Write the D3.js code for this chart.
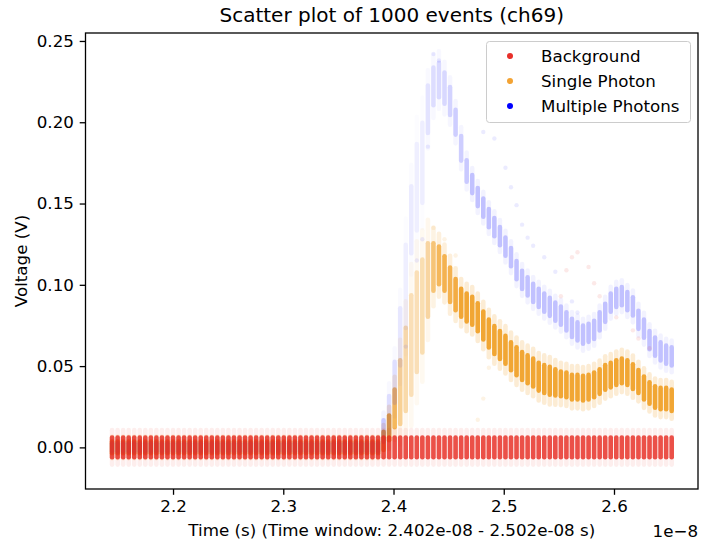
<!DOCTYPE html>
<html>
<head>
<meta charset="utf-8">
<script src="https://cdn.jsdelivr.net/npm/d3@7"></script>
<style>
  body { margin: 0; background: #fff; }
  svg text { font-family: "DejaVu Sans", sans-serif; fill: #000; }
</style>
</head>
<body>
<div id="chart"></div>
<script>
// Sampling grid of the waveform (time axis in units of 1e-8 s)
var sampleStart = 2.1447;
var sampleStep = 0.005026;
var sampleCount = 102;

// Per-sample band of each class: centre voltage and half spread (V)
var backgroundMid = [
  0,0,0,0,0,0,0,0,0,0, 0,0,0,0,0,0,0,0,0,0, 0,0,0,0,0,0,0,0,0,0,
  0,0,0,0,0,0,0,0,0,0, 0,0,0,0,0,0,0,0,0,0, 0,0,0,0,0,0,0,0,0,0,
  0,0,0,0,0,0,0,0,0,0, 0,0,0,0,0,0,0,0,0,0, 0,0,0,0,0,0,0,0,0,0,
  0,0,0,0,0,0,0,0,0,0, 0,0
];
var backgroundHalf = 0.0075;

var singleMid = [
  0,0,0,0,0,0,0,0,0,0, 0,0,0,0,0,0,0,0,0,0, 0,0,0,0,0,0,0,0,0,0,
  0,0,0,0,0,0,0,0,0,0, 0,0,0,0,0,0,0,0,0,0.004,
  0.012,0.024,0.034,0.048,0.063,0.077,0.087,0.103,0.111,0.112,
  0.107,0.100,0.094,0.089,0.086,0.084,0.080,0.075,0.070,0.066,
  0.063,0.060,0.056,0.053,0.050,0.048,0.046,0.0435,0.042,0.041,
  0.040,0.039,0.0385,0.037,0.037,0.0365,0.037,0.0385,0.0405,0.043,
  0.0445,0.046,0.047,0.046,0.0435,0.0405,0.0365,0.0335,0.031,0.030,
  0.030,0.029
];
var singleHalf = [
  0.005,0.005,0.005,0.005,0.005,0.005,0.005,0.005,0.005,0.005,
  0.005,0.005,0.005,0.005,0.005,0.005,0.005,0.005,0.005,0.005,
  0.005,0.005,0.005,0.005,0.005,0.005,0.005,0.005,0.005,0.005,
  0.005,0.005,0.005,0.005,0.005,0.005,0.005,0.005,0.005,0.005,
  0.005,0.005,0.005,0.005,0.005,0.005,0.005,0.005,0.005,0.007,
  0.009,0.013,0.021,0.027,0.032,0.032,0.030,0.024,0.016,0.013,
  0.012,0.012,0.011,0.010,0.010,0.010,0.010,0.010,0.010,0.010,
  0.010,0.010,0.010,0.010,0.010,0.010,0.010,0.010,0.010,0.010,
  0.0095,0.009,0.009,0.009,0.009,0.009,0.009,0.009,0.009,0.009,
  0.009,0.009,0.009,0.009,0.009,0.0085,0.0085,0.008,0.008,0.008,
  0.008,0.008
];

var multiMid = [
  0,0,0,0,0,0,0,0,0,0, 0,0,0,0,0,0,0,0,0,0, 0,0,0,0,0,0,0,0,0,0,
  0,0,0,0,0,0,0,0,0,0, 0,0,0,0,0,0,0,0,0,0.010,
  0.020,0.040,0.068,0.099,0.140,0.160,0.175,0.208,0.222,0.226,
  0.221,0.213,0.200,0.184,0.170,0.162,0.154,0.1475,0.141,0.1355,
  0.130,0.1235,0.117,0.109,0.103,0.099,0.095,0.092,0.089,0.0865,
  0.0835,0.081,0.0775,0.0735,0.0713,0.0693,0.0705,0.0723,0.0775,0.0828,
  0.089,0.092,0.093,0.090,0.0867,0.0785,0.073,0.066,0.062,0.059,
  0.057,0.056
];
var multiHalf = [
  0.004,0.004,0.004,0.004,0.004,0.004,0.004,0.004,0.004,0.004,
  0.004,0.004,0.004,0.004,0.004,0.004,0.004,0.004,0.004,0.004,
  0.004,0.004,0.004,0.004,0.004,0.004,0.004,0.004,0.004,0.004,
  0.004,0.004,0.004,0.004,0.004,0.004,0.004,0.004,0.004,0.004,
  0.004,0.004,0.004,0.004,0.004,0.004,0.004,0.004,0.004,0.008,
  0.013,0.014,0.019,0.027,0.022,0.028,0.026,0.016,0.013,0.012,
  0.011,0.010,0.009,0.009,0.008,0.007,0.007,0.007,0.007,0.007,
  0.007,0.007,0.007,0.007,0.007,0.007,0.007,0.007,0.007,0.007,
  0.007,0.007,0.007,0.007,0.007,0.007,0.007,0.007,0.007,0.007,
  0.007,0.007,0.007,0.007,0.007,0.007,0.007,0.007,0.007,0.007,
  0.007,0.007
];

// A few stray events away from the bands: [sample index, voltage]
var backgroundStrays = [[81,0.093],[82,0.109],[83,0.117],[84,0.120],[86,0.111],[87,0.101],
  [88,0.093],[91,0.080],[94,0.072],[95,0.067],[97,0.061]];
var singleStrays = [[66,0.017],[67,0.030],[68,0.049],[58,0.135],[60,0.128],[62,0.118]];
var multiStrays = [[67,0.194],[69,0.190],[71,0.172],[72,0.160],[73,0.149],[74,0.137],
  [75,0.129],[76,0.124],[78,0.117],[80,0.108],[83,0.0898],[84,0.083],[53,0.062],[55,0.115],
  [56,0.128],[57,0.185],[58,0.242],[59,0.238]];

var tickX = [2.2, 2.3, 2.4, 2.5, 2.6];
var tickY = [0.00, 0.05, 0.10, 0.15, 0.20, 0.25];
var legendLabels = ["Background", "Single Photon", "Multiple Photons"];
var legendColors = ["#e8302a", "#f3a333", "#0000ff"];

var width = 701, height = 545;
var plot = {left: 85.5, right: 698, top: 33, bottom: 489};

var svg = d3.select("#chart").append("svg")
  .attr("width", width)
  .attr("height", height);

var x = d3.scaleLinear().domain([2.1206, 2.6762]).range([plot.left, plot.right]);
var y = d3.scaleLinear().domain([-0.0256, 0.2549]).range([plot.bottom, plot.top]);

var times = d3.range(sampleCount).map(function(i) { return sampleStart + i * sampleStep; });
var colW = 4.6;

var marks = svg.append("g");

// draws one vertical band per time sample: faint halo + denser core
function drawColumns(mids, halfs, color, baseOp, refHalf, maxOp, haloOp) {
  var cols = mids.map(function(m, i) {
    var h = Array.isArray(halfs) ? halfs[i] : halfs;
    return {t: times[i], mid: m, half: h, op: Math.min(maxOp, baseOp * refHalf / h)};
  });
  var g = marks.append("g");
  g.selectAll(null).data(cols).enter().append("rect")
    .attr("x", function(d) { return x(d.t) - colW / 2; })
    .attr("width", colW)
    .attr("y", function(d) { return y(d.mid + d.half * 1.6); })
    .attr("height", function(d) { return y(d.mid - d.half * 1.6) - y(d.mid + d.half * 1.6); })
    .attr("rx", colW / 2)
    .attr("fill", color)
    .attr("fill-opacity", function(d) { return d.op * haloOp; });
  g.selectAll(null).data(cols).enter().append("rect")
    .attr("x", function(d) { return x(d.t) - colW / 2; })
    .attr("width", colW)
    .attr("y", function(d) { return y(d.mid + d.half); })
    .attr("height", function(d) { return y(d.mid - d.half) - y(d.mid + d.half); })
    .attr("rx", colW / 2)
    .attr("fill", color)
    .attr("fill-opacity", function(d) { return d.op; });
}

function drawStrays(list, color, op) {
  marks.append("g").selectAll("circle")
    .data(list)
    .enter().append("circle")
      .attr("cx", function(d) { return x(times[d[0]]); })
      .attr("cy", function(d) { return y(d[1]); })
      .attr("r", 2.2)
      .attr("fill", color)
      .attr("fill-opacity", op);
}

drawColumns(singleMid, singleHalf, "#f09e22", 0.9, 0.010, 0.9, 0.22);
drawColumns(multiMid, multiHalf, "#0000ff", 0.2, 0.007, 0.2, 0.25);
drawColumns(backgroundMid, backgroundHalf, "#e6281e", 0.8, 0.0075, 0.8, 0.1);
drawStrays(backgroundStrays, "#e6281e", 0.1);
drawStrays(singleStrays, "#f09e22", 0.12);
drawStrays(multiStrays, "#0000ff", 0.08);

// axes
var fontSize = "16.7px";
var yAxis = svg.append("g")
  .attr("transform", "translate(" + plot.left + ",0)")
  .call(d3.axisLeft(y).tickValues(tickY).tickFormat(d3.format(".2f"))
    .tickSize(5.8).tickPadding(5.8).tickSizeOuter(0));
var xAxis = svg.append("g")
  .attr("transform", "translate(0," + plot.bottom + ")")
  .call(d3.axisBottom(x).tickValues(tickX).tickFormat(d3.format(".1f"))
    .tickSize(5.8).tickPadding(5.8).tickSizeOuter(0));
[xAxis, yAxis].forEach(function(a) {
  a.select(".domain").remove();
  a.selectAll("line").attr("stroke", "#000").attr("stroke-width", 1.3);
  a.selectAll("text").attr("font-family", "DejaVu Sans").style("font-size", fontSize).attr("fill", "#000");
});

svg.append("rect")
  .attr("x", plot.left)
  .attr("y", plot.top)
  .attr("width", plot.right - plot.left)
  .attr("height", plot.bottom - plot.top)
  .attr("fill", "none")
  .attr("stroke", "#000")
  .attr("stroke-width", 1.3);

// title & labels
svg.append("text")
  .attr("x", (plot.left + plot.right) / 2)
  .attr("y", 22)
  .attr("text-anchor", "middle")
  .style("font-size", "20px")
  .text("Scatter plot of 1000 events (ch69)");

svg.append("text")
  .attr("x", (plot.left + plot.right) / 2)
  .attr("y", 536)
  .attr("text-anchor", "middle")
  .style("font-size", fontSize)
  .text("Time (s) (Time window: 2.402e-08 - 2.502e-08 s)");

svg.append("text")
  .attr("x", plot.right)
  .attr("y", 537)
  .attr("text-anchor", "end")
  .style("font-size", fontSize)
  .text("1e\u22128");

svg.append("text")
  .attr("transform", "translate(27," + ((plot.top + plot.bottom) / 2) + ") rotate(-90)")
  .attr("text-anchor", "middle")
  .style("font-size", fontSize)
  .text("Voltage (V)");

// legend
var legend = svg.append("g");
legend.append("rect")
  .attr("x", 486.5).attr("y", 41.5)
  .attr("width", 204).attr("height", 81)
  .attr("rx", 3)
  .attr("fill", "#fff").attr("fill-opacity", 0.8)
  .attr("stroke", "#cccccc").attr("stroke-width", 1);
legend.selectAll("circle")
  .data(legendLabels)
  .enter().append("circle")
    .attr("cx", 510)
    .attr("cy", function(d, i) { return 56 + i * 25; })
    .attr("r", 3)
    .attr("fill", function(d, i) { return legendColors[i]; });
legend.selectAll("text")
  .data(legendLabels)
  .enter().append("text")
    .attr("x", 541)
    .attr("y", function(d, i) { return 61.5 + i * 25; })
    .style("font-size", fontSize)
    .text(function(d) { return d; });
</script>
</body>
</html>
